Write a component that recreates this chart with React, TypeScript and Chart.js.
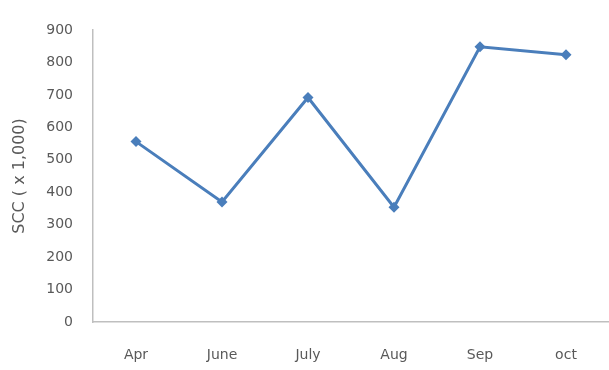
import React, { useEffect, useRef } from "react";
import { Chart, registerables } from "chart.js";

Chart.register(...registerables);

const categories = ["Apr", "June", "July", "Aug", "Sep", "oct"];
const sccValues = [556, 370, 692, 354, 848, 824];
const yTicks = [0, 100, 200, 300, 400, 500, 600, 700, 800, 900];
const yTitle = "SCC ( x 1,000)";

export default function App() {
  const ref = useRef<HTMLCanvasElement | null>(null);
  useEffect(() => {
    if (!ref.current) return;
    const font = { family: "'DejaVu Sans', sans-serif", size: 14 };
    const titleFont = { family: "'DejaVu Sans', sans-serif", size: 16 };
    const chart = new Chart(ref.current, {
      type: "line",
      data: {
        labels: categories,
        datasets: [
          {
            data: sccValues,
            borderColor: "#4a7ebb",
            backgroundColor: "#4a7ebb",
            borderWidth: 3,
            pointStyle: "rectRot",
            pointRadius: 5.5,
            pointBorderWidth: 0,
            tension: 0,
          },
        ],
      },
      options: {
        animation: false,
        responsive: false,
        maintainAspectRatio: false,
        layout: { autoPadding: false, padding: { top: 30, right: 0, left: 0, bottom: 0 } },
        plugins: { legend: { display: false }, tooltip: { enabled: false } },
        scales: {
          x: {
            offset: true,
            grid: { display: false, drawTicks: false },
            border: { display: true, color: "#bfbfbf", width: 1.5 },
            ticks: { color: "#595959", font, padding: 25 },
            afterFit: (s: any) => {
              s.height = 48;
              s.paddingLeft = 0;
              s.paddingRight = 0;
            },
          },
          y: {
            min: 0,
            max: 900,
            afterBuildTicks: (s: any) => {
              s.ticks = yTicks.map((v) => ({ value: v }));
            },
            grid: { display: false, drawTicks: false },
            border: { display: true, color: "#bfbfbf", width: 1.5 },
            ticks: { color: "#595959", font, padding: 20 },
            title: {
              display: true,
              text: yTitle,
              color: "#595959",
              font: titleFont,
              padding: { top: 10, bottom: 0 },
            },
            afterFit: (s: any) => {
              s.width = 93;
            },
          },
        },
      },
    });
    return () => chart.destroy();
  }, []);
  return (
    <div style={{ position: "fixed", left: 0, top: 0, width: 609, height: 370, background: "#fff" }}>
      <canvas ref={ref} width={609} height={370} style={{ width: 609, height: 370 }} />
    </div>
  );
}
